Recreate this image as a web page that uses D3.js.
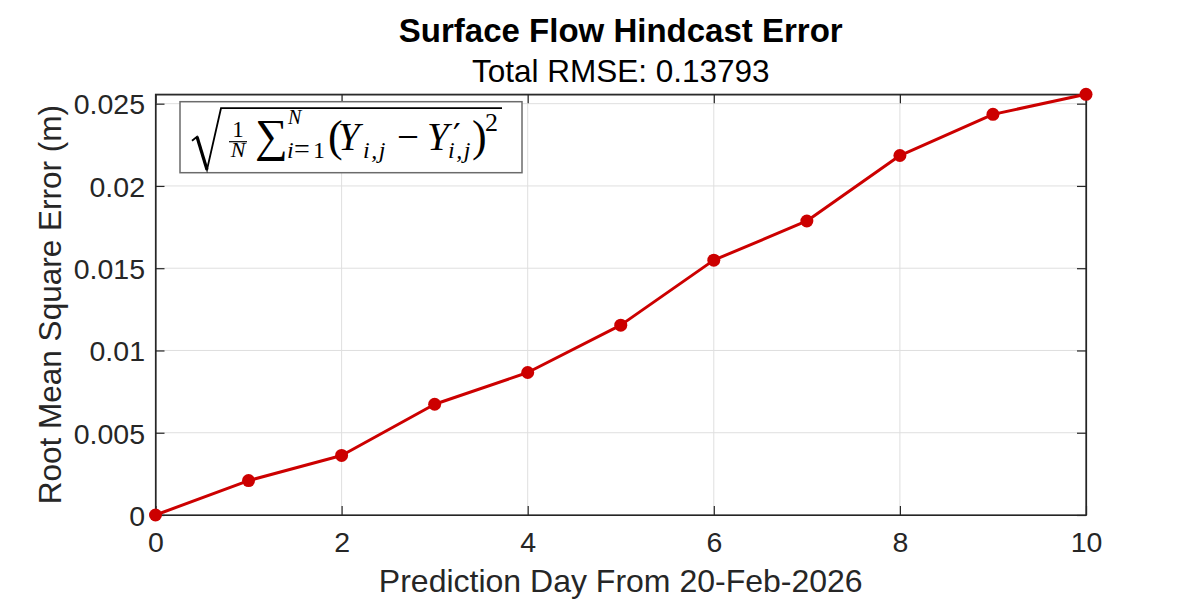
<!DOCTYPE html>
<html>
<head>
<meta charset="utf-8">
<script src="https://cdn.jsdelivr.net/npm/d3@7"></script>
<style>
  html, body { margin: 0; padding: 0; background: #fff; }
  svg { display: block; }
</style>
</head>
<body>
<svg id="chart" width="1200" height="600"></svg>
<script>
// ---- data ----
const days = [0, 1, 2, 3, 4, 5, 6, 7, 8, 9, 10];
const rmse = [0, 0.00209, 0.00362, 0.00673, 0.00866, 0.01154, 0.01549, 0.01787, 0.02185, 0.02435, 0.02557];
const xTicks = [0, 2, 4, 6, 8, 10];
const yTicks = [0, 0.005, 0.01, 0.015, 0.02, 0.025];
const yTickLabels = ["0", "0.005", "0.01", "0.015", "0.02", "0.025"];
const titleText = "Surface Flow Hindcast Error";
const subtitleText = "Total RMSE: 0.13793";
const xLabelText = "Prediction Day From 20-Feb-2026";
const yLabelText = "Root Mean Square Error (m)";

// ---- layout ----
const svg = d3.select("#chart");
const m = { left: 155.5, right: 1086, top: 94.3, bottom: 515 };
const axisColor = "#262626";
const gridColor = "#dfdfdf";
const lineColor = "#cc0000";
const sans = "'Liberation Sans', Arial, Helvetica, sans-serif";

const x = d3.scaleLinear().domain([0, 10]).range([m.left, m.right]);
const y = d3.scaleLinear().domain([0, d3.max(rmse)]).range([m.bottom, m.top]);

// grid
const grid = svg.append("g");
grid.selectAll("line.vg").data(xTicks).join("line")
  .attr("x1", d => x(d)).attr("x2", d => x(d))
  .attr("y1", m.top).attr("y2", m.bottom)
  .attr("stroke", gridColor).attr("stroke-width", 1);
grid.selectAll("line.hg").data(yTicks).join("line")
  .attr("x1", m.left).attr("x2", m.right)
  .attr("y1", d => y(d)).attr("y2", d => y(d))
  .attr("stroke", gridColor).attr("stroke-width", 1);

// axes (inward ticks, box on)
const tickLen = 9;
const fmt = d => yTickLabels[yTicks.indexOf(d)];
const xAxisB = svg.append("g").attr("transform", `translate(0,${m.bottom})`)
  .call(d3.axisBottom(x).tickValues(xTicks).tickSizeInner(-tickLen).tickSizeOuter(0).tickPadding(17));
const xAxisT = svg.append("g").attr("transform", `translate(0,${m.top})`)
  .call(d3.axisTop(x).tickValues(xTicks).tickSizeInner(-tickLen).tickSizeOuter(0).tickFormat(""));
const yAxisL = svg.append("g").attr("transform", `translate(${m.left},0)`)
  .call(d3.axisLeft(y).tickValues(yTicks).tickFormat(fmt).tickSizeInner(-tickLen).tickSizeOuter(0).tickPadding(10.5));
const yAxisR = svg.append("g").attr("transform", `translate(${m.right},0)`)
  .call(d3.axisRight(y).tickValues(yTicks).tickSizeInner(-tickLen).tickSizeOuter(0).tickFormat(""));

[xAxisB, xAxisT, yAxisL, yAxisR].forEach(g => {
  g.select(".domain").attr("stroke", axisColor).attr("stroke-width", 1.2);
  g.selectAll(".tick line").attr("stroke", axisColor).attr("stroke-width", 1.2);
  g.selectAll(".tick text").attr("fill", axisColor)
    .style("font-family", sans).style("font-size", "28.5px");
});
svg.append("rect")
  .attr("x", m.left).attr("y", m.top)
  .attr("width", m.right - m.left).attr("height", m.bottom - m.top)
  .attr("fill", "none").attr("stroke", axisColor).attr("stroke-width", 1.2);
xAxisB.selectAll(".tick text").attr("dy", "0.71em").attr("y", 17);
yAxisL.selectAll(".tick text").attr("dy", "0.36em");

// line + markers
const line = d3.line().x((d, i) => x(days[i])).y(d => y(d));
svg.append("path").datum(rmse)
  .attr("d", line).attr("fill", "none")
  .attr("stroke", lineColor).attr("stroke-width", 3)
  .attr("stroke-linejoin", "round");
svg.append("g").selectAll("circle").data(rmse).join("circle")
  .attr("cx", (d, i) => x(days[i])).attr("cy", d => y(d))
  .attr("r", 6.5).attr("fill", lineColor);

// titles and labels
const cx = (m.left + m.right) / 2;
svg.append("text").text(titleText)
  .attr("x", cx).attr("y", 42).attr("text-anchor", "middle")
  .style("font-family", sans).style("font-size", "33px").style("font-weight", "bold")
  .attr("fill", "#000");
svg.append("text").text(subtitleText)
  .attr("x", cx).attr("y", 82).attr("text-anchor", "middle")
  .style("font-family", sans).style("font-size", "31.5px")
  .attr("fill", "#000");
svg.append("text").text(xLabelText)
  .attr("x", cx).attr("y", 592).attr("text-anchor", "middle")
  .style("font-family", sans).style("font-size", "32px")
  .attr("fill", axisColor);
svg.append("text").text(yLabelText)
  .attr("transform", `translate(61,${(m.top + m.bottom) / 2}) rotate(-90)`)
  .attr("text-anchor", "middle")
  .style("font-family", sans).style("font-size", "31.5px")
  .attr("fill", axisColor);

// formula legend box
const bx = 180, by = 101.7, bw = 342, bh = 71;
const box = svg.append("g").attr("transform", `translate(${bx},${by})`);
box.append("rect").attr("width", bw).attr("height", bh)
  .attr("fill", "#fff").attr("stroke", "#6b6b6b").attr("stroke-width", 1.5);
const serif = "'Liberation Serif', 'Times New Roman', serif";
// radical sign
box.append("path")
  .attr("d", "M12,39 L17,35 L27,68 L41,6.5 L322,6.5")
  .attr("fill", "none").attr("stroke", "#000").attr("stroke-width", 1.8)
  .attr("stroke-linejoin", "miter");
box.append("path")
  .attr("d", "M17,35 L27,68")
  .attr("fill", "none").attr("stroke", "#000").attr("stroke-width", 3.2);
function t(str, px, py, size, italic, anchor, family) {
  return box.append("text").text(str).attr("x", px).attr("y", py)
    .attr("text-anchor", anchor || "start")
    .style("font-family", family || serif).style("font-size", size + "px")
    .style("font-style", italic ? "italic" : "normal").attr("fill", "#000");
}
// fraction 1/N
t("1", 58, 35, 23, false, "middle");
box.append("line").attr("x1", 49).attr("x2", 67).attr("y1", 40).attr("y2", 40)
  .attr("stroke", "#000").attr("stroke-width", 1.2);
t("N", 58, 55, 22, true, "middle");
// sum with limits
t("\u2211", 75, 49, 46, false);
t("N", 108, 22, 20, true);
t("i", 107, 56.5, 24, true);
t("=", 114, 56.5, 28, false);
t("1", 133, 56.5, 24, false);
// (Y_{i,j} - Y'_{i,j})^2
t("(", 148, 49, 44, false);
t("Y", 158, 48.3, 39, true);
t("i,j", 183, 56.5, 24, true).attr("letter-spacing", 1.5);
t("\u2212", 217, 48.3, 39, false);
t("Y", 247, 48.3, 39, true);
t("\u2032", 273, 46, 34, false, "start", "'DejaVu Serif', serif");
t("i,j", 268, 56.5, 24, true).attr("letter-spacing", 1.5);
t(")", 292, 49, 44, false);
t("2", 305, 29, 26, false);
</script>
</body>
</html>
